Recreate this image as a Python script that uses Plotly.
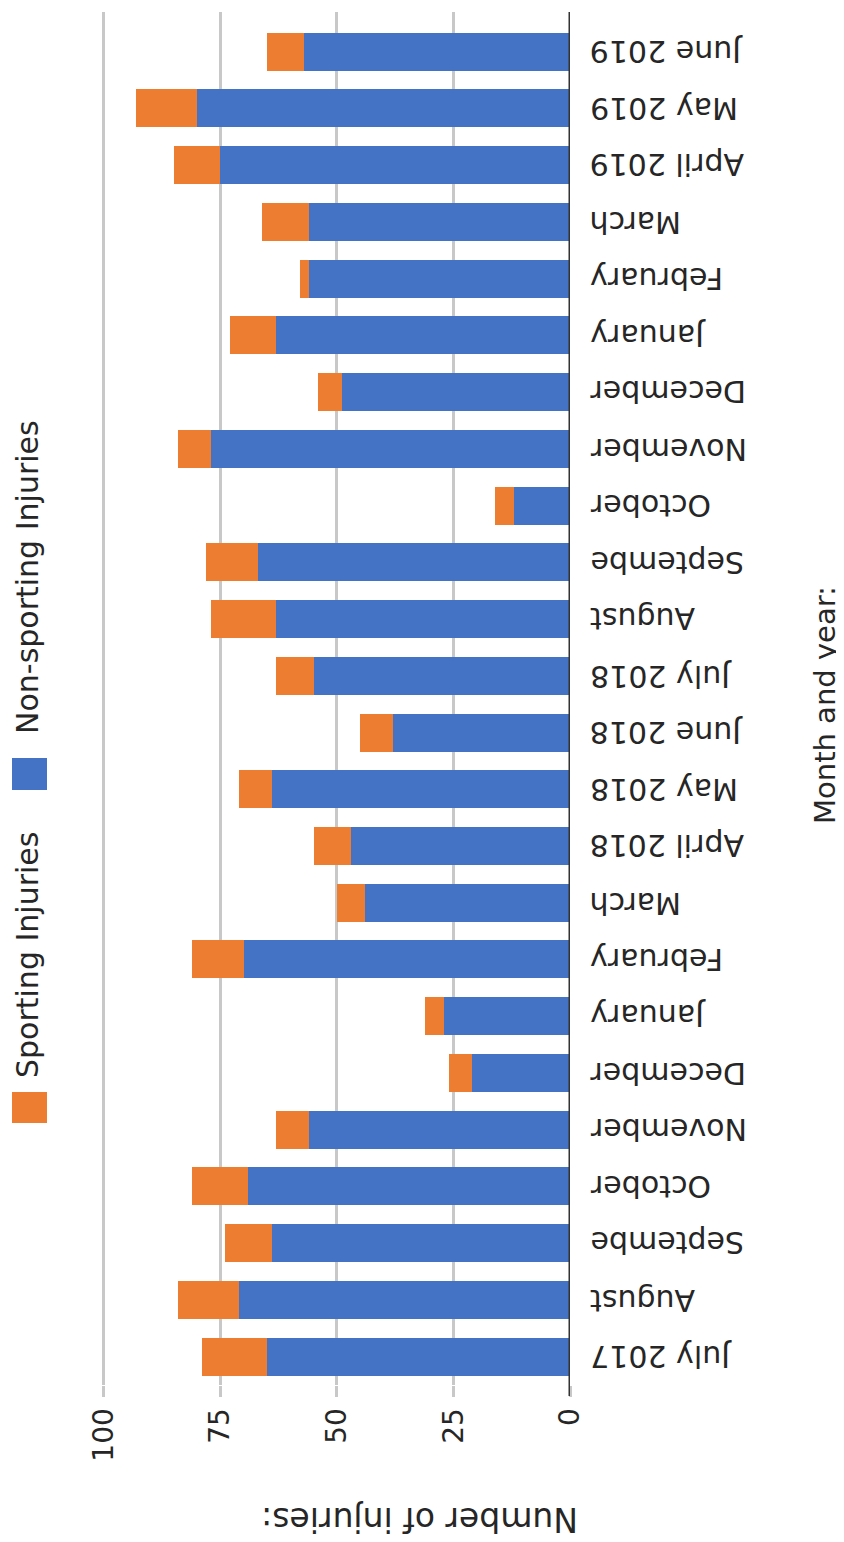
import plotly.graph_objects as go

# ---------------- data ----------------
categories = ["July 2017", "August", "Septembe", "October", "November", "December",
              "January", "February", "March", "April 2018", "May 2018", "June 2018",
              "July 2018", "August", "Septembe", "October", "November", "December",
              "January", "February", "March", "April 2019", "May 2019", "June 2019"]
non_sporting = [65, 71, 64, 69, 56, 21, 27, 70, 44, 47, 64, 38,
                55, 63, 67, 12, 77, 49, 63, 56, 56, 75, 80, 57]
sporting = [14, 13, 10, 12, 7, 5, 4, 11, 6, 8, 7, 7,
            8, 14, 11, 4, 7, 5, 10, 2, 10, 10, 13, 8]
value_ticks = [0, 25, 50, 75, 100]
series_names = ["Sporting Injuries", "Non-sporting Injuries"]
axis_titles = ["Number of injuries:", "Month and year:"]

# ---------------- layout helpers ----------------
W, H = 844, 1542          # reference canvas
OFF = 8                   # page body margin offset
PL, PR, PT, PB = 99, 570, 12, 1385

def px_x(px):
    return (px - PL) / (PR - PL)

def px_y(py):
    return (PB - py) / (PB - PT)

BLUE = "#4472C4"
ORANGE = "#ED7D31"
TXT = "#262626"
FONT = "DejaVu Sans"

ypos = list(range(len(categories)))

fig = go.Figure()
fig.add_trace(go.Bar(y=ypos, x=non_sporting, orientation="h", name=series_names[1],
                     marker=dict(color=BLUE, line=dict(width=0))))
fig.add_trace(go.Bar(y=ypos, x=sporting, orientation="h", name=series_names[0],
                     marker=dict(color=ORANGE, line=dict(width=0))))

annotations = []
for i, c in enumerate(categories):
    annotations.append(dict(x=px_x(588), xref="paper", y=ypos[i], yref="y",
                            text=c, textangle=180, showarrow=False,
                            xanchor="left", yanchor="middle",
                            font=dict(family=FONT, size=30, color=TXT)))
# legend texts
annotations.append(dict(x=px_x(27), xref="paper", y=px_y(577), yref="paper",
                        text=series_names[1], textangle=-90, showarrow=False,
                        xanchor="center", yanchor="middle",
                        font=dict(family=FONT, size=30, color=TXT)))
annotations.append(dict(x=px_x(27), xref="paper", y=px_y(955), yref="paper",
                        text=series_names[0], textangle=-90, showarrow=False,
                        xanchor="center", yanchor="middle",
                        font=dict(family=FONT, size=30, color=TXT)))
# axis titles
annotations.append(dict(x=px_x(420), xref="paper", y=px_y(1520), yref="paper",
                        text=axis_titles[0], textangle=180, showarrow=False,
                        xanchor="center", yanchor="middle",
                        font=dict(family=FONT, size=33, color=TXT)))
annotations.append(dict(x=px_x(825), xref="paper", y=px_y(705), yref="paper",
                        text=axis_titles[1], textangle=-90, showarrow=False,
                        xanchor="center", yanchor="middle",
                        font=dict(family=FONT, size=29, color=TXT)))

shapes = [
    # legend swatches
    dict(type="rect", xref="paper", yref="paper",
         x0=px_x(12), x1=px_x(47), y0=px_y(790), y1=px_y(758),
         fillcolor=BLUE, line=dict(width=0)),
    dict(type="rect", xref="paper", yref="paper",
         x0=px_x(12), x1=px_x(47), y0=px_y(1123), y1=px_y(1092),
         fillcolor=ORANGE, line=dict(width=0)),
    # category axis line
    dict(type="line", xref="x", yref="paper", x0=0, x1=0,
         y0=px_y(1396), y1=1, line=dict(color="#333333", width=3)),
]

fig.update_layout(
    width=W - OFF, height=H - OFF,
    margin=dict(l=PL - OFF, r=W - PR, t=PT - OFF, b=H - PB, pad=0),
    paper_bgcolor="white", plot_bgcolor="white",
    barmode="stack", bargap=0.33,
    showlegend=False,
    font=dict(family=FONT, color=TXT),
    annotations=annotations,
    shapes=shapes,
    xaxis=dict(range=[101, 0], tickvals=value_ticks,
               ticktext=[str(v) for v in value_ticks],
               tickangle=-90, tickfont=dict(family=FONT, size=28, color=TXT),
               showgrid=True, gridcolor="#c8c8c8", gridwidth=2.5,
               ticks="outside", ticklen=11, tickcolor="#c8c8c8", tickwidth=2.5,
               zeroline=False, showline=False),
    yaxis=dict(range=[-0.5, 23.7], showticklabels=False, showgrid=False,
               zeroline=False, showline=False, ticks=""),
)

fig.write_html("out.html")
